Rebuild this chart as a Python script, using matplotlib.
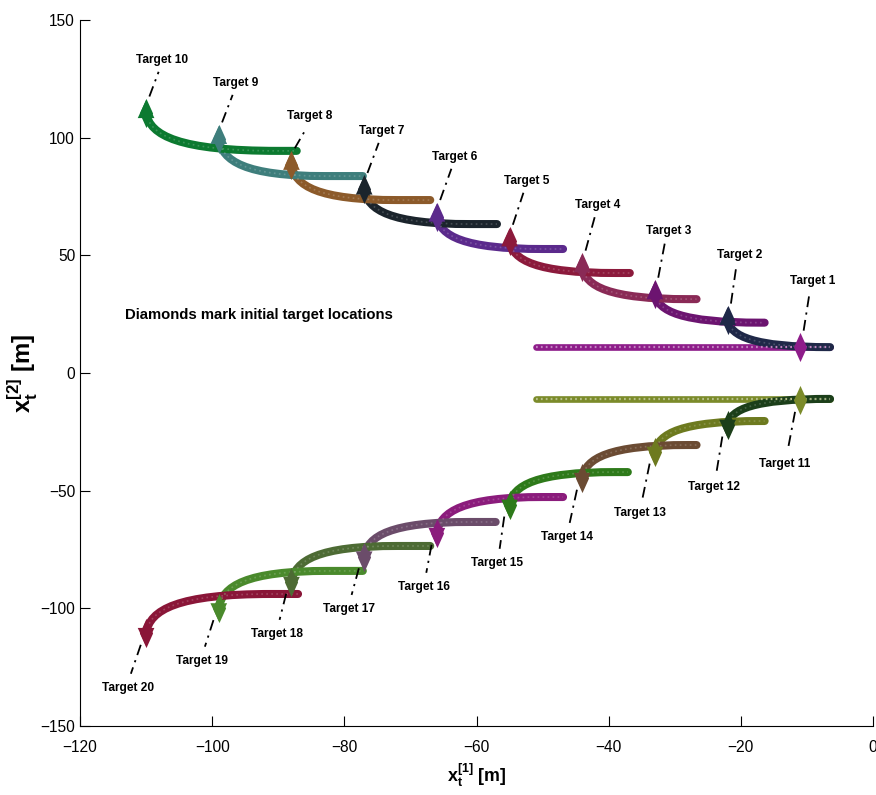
import matplotlib
matplotlib.use('Agg')
import matplotlib.pyplot as plt
from matplotlib import font_manager
from matplotlib.path import Path
from matplotlib.patches import PathPatch, FancyArrowPatch


def pick_font(names):
    for n in names:
        try:
            font_manager.findfont(font_manager.FontProperties(family=n),
                                  fallback_to_default=False)
            return n
        except ValueError:
            pass
    return 'DejaVu Sans'


FONT = pick_font(['Liberation Sans Narrow', 'DejaVu Sans Condensed', 'Liberation Sans'])
# shrink the regular face a bit when no condensed one is around
FS = 1.0 if ('Narrow' in FONT or 'Condensed' in FONT) else 0.86

plt.rcParams['font.family'] = [FONT, 'DejaVu Sans']
plt.rcParams['mathtext.fontset'] = 'custom'
plt.rcParams['mathtext.rm'] = FONT
plt.rcParams['mathtext.it'] = FONT
plt.rcParams['mathtext.bf'] = FONT + ':bold'

# initial target locations (diamonds)
start_x = [-11, -22, -33, -44, -55, -66, -77, -88, -99, -110,
           -11, -22, -33, -44, -55, -66, -77, -88, -99, -110]
start_y = [11, 22.5, 33.5, 45, 56, 66.5, 78, 88.5, 99.5, 110.5,
           -11.5, -22, -33.5, -44.6, -56, -68, -78, -88.8, -100, -110.5]

# where each track levels off, where it ends, and how wide its bend is
level_y = [11, 11, 21.4, 31.4, 42.5, 52.7, 63.3, 73.5, 83.7, 94.4,
           -11, -11, -20.4, -30.6, -42.1, -52.7, -63.3, -73.5, -84.1, -93.9]
end_x = [-6.5, -6.5, -16.4, -26.7, -36.8, -46.9, -56.9, -67.0, -77.2, -87.2,
         -6.5, -6.5, -16.4, -26.7, -37.1, -46.9, -57.1, -67.0, -77.2, -87.0]
bend_w = [0, 15.5, 16, 16, 16, 16, 16, 16, 16, 20,
          0, 15.5, 16, 16, 16, 16, 16, 16, 16.5, 19]
flat_left_x = -51  # straight tracks (bend_w 0) start here

track_colors = ['#8e1c8a', '#1f2848', '#6c1470', '#8a2a56', '#8c1a3c',
                '#5b2a8c', '#1b242c', '#8c5a2a', '#3e7e7c', '#0c7a30',
                '#7b8b2a', '#1c3f1a', '#6d7a1f', '#6b4b33', '#2e7a1a',
                '#8b1c7c', '#6b4c6a', '#4d6b34', '#4a8a2c', '#8a1638']

target_names = ['Target %d' % (i + 1) for i in range(20)]
label_x = [-9.1, -20.2, -31.0, -41.6, -52.4, -63.3, -74.3, -85.2, -96.4, -107.6,
           -13.3, -24.1, -35.3, -46.3, -56.9, -68.0, -79.3, -90.2, -101.5, -112.7]
label_y = [39.1, 50.1, 60.3, 71.4, 81.6, 91.8, 102.8, 109.2, 123.2, 133.0,
           -38.7, -48.4, -59.5, -69.7, -80.7, -90.9, -100.3, -110.9, -122.3, -133.8]

note_text = 'Diamonds mark initial target locations'


def lighter(c, amt=0.35):
    r, g, b = matplotlib.colors.to_rgb(c)
    return (r + (1 - r) * amt, g + (1 - g) * amt, b + (1 - b) * amt)


def track_path(i):
    x0, y0, yh, w = start_x[i], start_y[i], level_y[i], bend_w[i]
    if w == 0:
        return Path([(flat_left_x, yh), (end_x[i], yh)], [Path.MOVETO, Path.LINETO])
    d = y0 - yh
    verts = [(x0, y0), (x0 + 0.03 * w, y0 - 0.6 * d), (x0 + 0.25 * w, yh),
             (x0 + w, yh), (end_x[i], yh)]
    codes = [Path.MOVETO, Path.CURVE4, Path.CURVE4, Path.CURVE4, Path.LINETO]
    return Path(verts, codes)


def plot_tracks(ax):
    diamond = Path([(0, 1), (0.45, 0), (0, -1), (-0.45, 0), (0, 1)],
                   [Path.MOVETO, Path.LINETO, Path.LINETO, Path.LINETO, Path.CLOSEPOLY])
    for i in range(len(start_x)):
        c = track_colors[i]
        p = track_path(i)
        if bend_w[i] == 0:
            ax.add_patch(PathPatch(p, fill=False, ec=c, lw=4.8, capstyle='round', zorder=2))
            ax.add_patch(PathPatch(p, fill=False, ec=lighter(c, 0.45), lw=1.6,
                                   ls=(0, (0.8, 1.4)), zorder=2.1))
        else:
            ax.add_patch(PathPatch(p, fill=False, ec=c, lw=5.8, capstyle='round',
                                   joinstyle='round', zorder=2))
            ax.add_patch(PathPatch(p, fill=False, ec=lighter(c), lw=1.2,
                                   ls=(0, (1, 2)), alpha=0.55, zorder=2.1))
            # arrow head at the initial end of the track
            s = 1 if start_y[i] > 0 else -1
            ax.add_patch(FancyArrowPatch((start_x[i], start_y[i] - 3 * s),
                                         (start_x[i], start_y[i] + 5.5 * s),
                                         arrowstyle='-|>,head_length=1.3,head_width=0.6',
                                         mutation_scale=10, color=c, lw=0,
                                         shrinkA=0, shrinkB=0, zorder=3))
        ax.plot(start_x[i], start_y[i], marker=diamond, ms=21, color=c,
                mec=c, mew=0, ls='none', zorder=3)


def plot_labels(ax):
    for i in range(len(target_names)):
        sx, sy = start_x[i], start_y[i]
        lx, ly = label_x[i], label_y[i]
        if sy > 0:
            p0 = (sx + 0.5, sy + 7)
            p1 = (lx - 0.5, ly - 5)
        else:
            p0 = (sx - 0.8, sy - 5)
            p1 = (lx + 0.4, ly + 6)
        ax.plot([p0[0], p1[0]], [p0[1], p1[1]], color='black', lw=1.3,
                ls=(0, (6, 3, 1.2, 3)), zorder=4)
        ax.text(lx, ly, target_names[i], ha='center', va='center',
                fontsize=10 * FS, fontweight='bold', zorder=5)


fig = plt.figure(figsize=(8.76, 7.95), dpi=100)
ax = fig.add_axes([0.0913, 0.0868, 0.9053, 0.888])

plot_tracks(ax)
plot_labels(ax)
ax.text(-113.2, 24.6, note_text, ha='left', va='center', fontsize=12.5 * FS,
        fontweight='bold')

ax.set_xlim(-120, 0)
ax.set_ylim(-150, 150)
ax.set_xticks(range(-120, 1, 20))
ax.set_yticks(range(-150, 151, 50))
ax.tick_params(direction='in', length=7, labelsize=13 * FS, top=False, right=False)
ax.tick_params(axis='x', pad=10)
ax.spines['top'].set_visible(False)
ax.spines['right'].set_visible(False)
ax.set_xlabel(r'$\mathbf{x_t^{[1]}}$ [m]', fontsize=15 * FS, fontweight='bold', labelpad=5)
ax.set_ylabel(r'$\mathbf{x_t^{[2]}}$ [m]', fontsize=20 * FS, fontweight='bold')
ax.yaxis.set_label_coords(-0.05, 0.5)

fig.savefig('out.png', dpi=100)
